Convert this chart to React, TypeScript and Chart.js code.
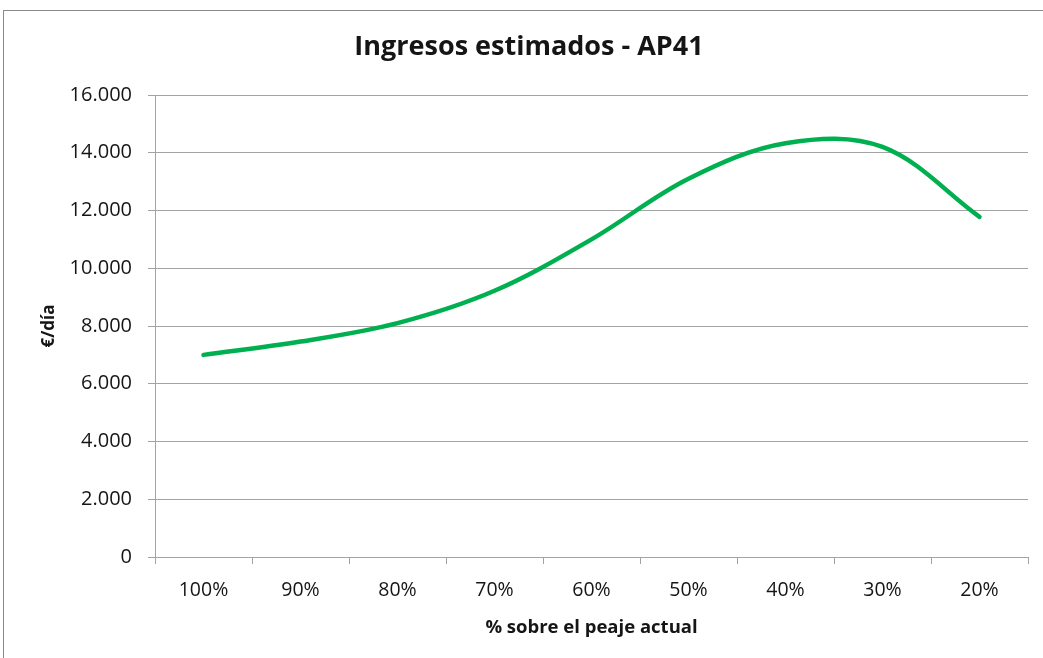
import { useEffect, useRef } from 'react';
import { Chart, registerables } from 'chart.js';

Chart.register(...registerables);

const categories = ['100%', '90%', '80%', '70%', '60%', '50%', '40%', '30%', '20%'];
const ingresos = [7000, 7460, 8100, 9220, 11000, 13100, 14330, 14200, 11780];
const yMin = 0;
const yMax = 16000;
const yStep = 2000;
const chartTitle = 'Ingresos estimados - AP41';
const xTitle = '% sobre el peaje actual';
const yTitle = '€/día';

const FONT = "'Open Sans', 'DejaVu Sans', sans-serif";
const GRID = '#a3a3a3';
const TEXT = '#151515';

function fmt(v: number): string {
  const s = Math.round(v).toString();
  return s.replace(/\B(?=(\d{3})+(?!\d))/g, '.');
}

export default function App() {
  const ref = useRef<HTMLCanvasElement | null>(null);

  useEffect(() => {
    if (!ref.current) return;
    const chart = new Chart(ref.current, {
      type: 'line',
      data: {
        labels: categories,
        datasets: [
          {
            label: 'Ingresos',
            data: ingresos,
            borderColor: '#00b050',
            borderWidth: 4.5,
            pointRadius: 0,
            tension: 0.35,
            fill: false,
            borderCapStyle: 'round',
            borderJoinStyle: 'round',
          },
        ],
      },
      options: {
        animation: false,
        responsive: false,
        maintainAspectRatio: false,
        layout: { padding: { left: 30, right: 15, top: 0, bottom: 0 } },
        plugins: {
          legend: { display: false },
          tooltip: { enabled: false },
          title: {
            display: true,
            text: chartTitle,
            color: TEXT,
            font: { family: FONT, size: 27, weight: 'bold' },
            padding: { top: 31, bottom: 31.6 },
          },
        },
        scales: {
          x: {
            type: 'category',
            offset: true,
            afterFit: (scale: any) => {
              scale.height = 101;
            },
            grid: {
              offset: true,
              drawOnChartArea: false,
              drawTicks: true,
              tickLength: 7,
              color: GRID,
            },
            border: { display: true, color: GRID, width: 1 },
            ticks: {
              color: TEXT,
              font: { family: FONT, size: 19.5 },
              padding: 15,
              maxRotation: 0,
              autoSkip: false,
            },
            title: {
              display: true,
              text: xTitle,
              color: TEXT,
              font: { family: FONT, size: 18.5, weight: 'bold' },
              padding: { top: 0, bottom: 19 },
            },
          },
          y: {
            min: yMin,
            max: yMax,
            afterFit: (scale: any) => {
              scale.width = 125;
            },
            grid: {
              color: GRID,
              tickLength: 7,
              drawTicks: true,
            },
            border: { display: true, color: GRID, width: 1 },
            ticks: {
              stepSize: yStep,
              color: TEXT,
              font: { family: FONT, size: 20 },
              padding: 16,
              callback: (v: any) => fmt(Number(v)),
            },
            title: {
              display: true,
              text: yTitle,
              color: TEXT,
              font: { family: FONT, size: 17, weight: 'bold' },
              padding: { top: 9, bottom: 0 },
            },
          },
        },
      },
    });
    return () => chart.destroy();
  }, []);

  return (
    <div
      style={{
        position: 'fixed',
        left: 0,
        top: 0,
        width: 1043,
        height: 658,
        background: '#ffffff',
        overflow: 'hidden',
      }}
    >
      <div
        style={{
          position: 'absolute',
          left: 3,
          top: 10,
          width: 1045,
          height: 660,
          borderLeft: '1px solid #8a8a8a',
          borderTop: '1px solid #8a8a8a',
        }}
      />
      <canvas ref={ref} width={1043} height={658} style={{ position: 'absolute', left: 0, top: 0 }} />
    </div>
  );
}
